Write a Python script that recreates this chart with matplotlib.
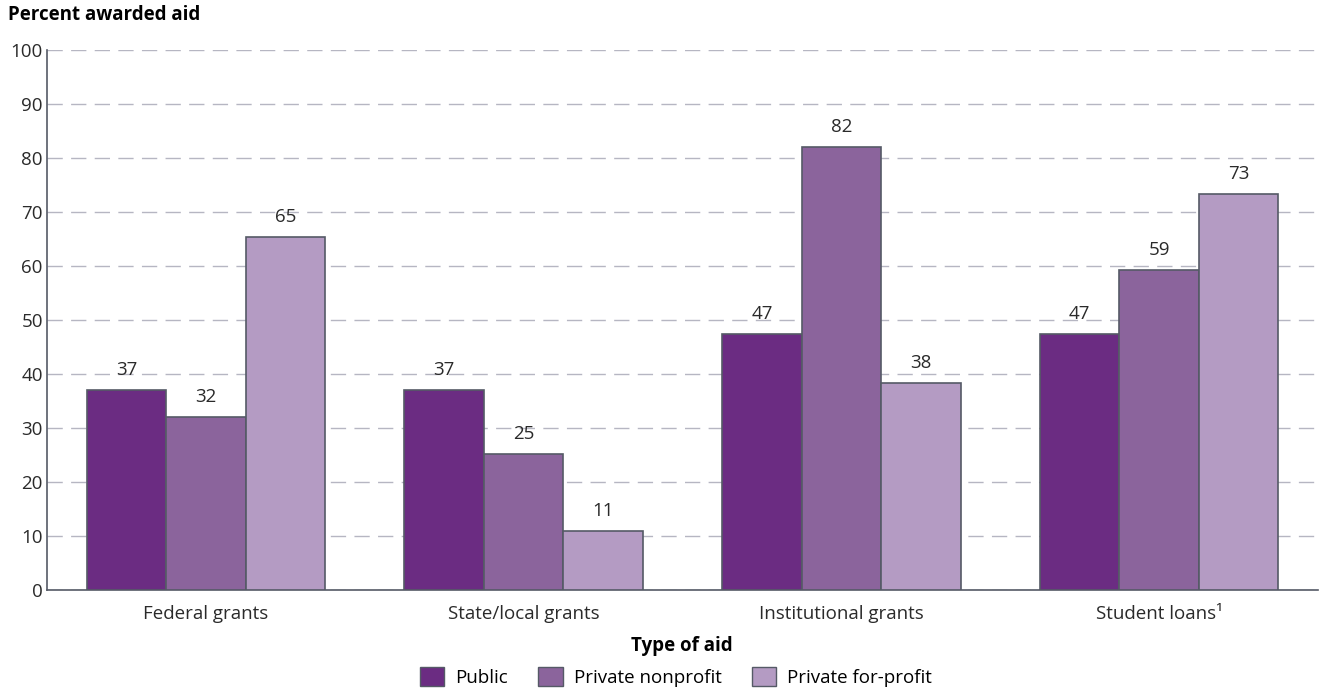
import numpy as np
import matplotlib.pyplot as plt
from matplotlib.patches import Patch

categories = ["Federal grants", "State/local grants", "Institutional grants", "Student loans\u00b9"]
series = ["Public", "Private nonprofit", "Private for-profit"]
public = [37.0, 37.0, 47.4, 47.4]
nonprofit = [32.0, 25.2, 82.0, 59.3]
forprofit = [65.4, 10.9, 38.4, 73.3]
labels = [[37, 37, 47, 47], [32, 25, 82, 59], [65, 11, 38, 73]]
colors = ["#6b2c82", "#8b649c", "#b49bc3"]

plt.rcParams['font.family'] = ['Open Sans', 'DejaVu Sans']
fs = 13.5

fig = plt.figure(figsize=(13.2, 6.93), dpi=100)
ax = fig.add_axes([47/1320, 1 - 590/693, 1271/1320, 540/693])

x = np.arange(len(categories))
w = 0.25
for i, vals in enumerate([public, nonprofit, forprofit]):
    pos = x + (i - 1) * w
    ax.bar(pos, vals, w, color=colors[i], edgecolor="#555a66", linewidth=1.2, zorder=3)
    for p, v, lab in zip(pos, vals, labels[i]):
        ax.text(p, v + 2.0, str(lab), ha="center", va="bottom", fontsize=fs, color="#2a2a2a", zorder=4)

ax.set_xlim(-0.5, 3.5)
ax.set_ylim(0, 100)
ax.set_yticks(np.arange(0, 101, 10))
ax.set_xticks(x)
ax.set_xticklabels(categories)
ax.tick_params(axis="both", length=0, labelsize=fs, colors="#2a2a2a")
ax.tick_params(axis="x", pad=11)
ax.tick_params(axis="y", pad=3)
ax.grid(axis="y", linestyle=(0, (11, 6)), color="#b6b6c2", linewidth=1.0, zorder=0)
for s in ["top", "right"]:
    ax.spines[s].set_visible(False)
for s in ["left", "bottom"]:
    ax.spines[s].set_color("#555a66")
    ax.spines[s].set_linewidth(1.2)

fig.text(8/1320, 1 - 15/693, "Percent awarded aid", fontsize=fs, fontweight="bold", va="center", ha="left")
fig.text(682/1320, 1 - 646/693, "Type of aid", fontsize=fs, fontweight="bold", va="center", ha="center")

handles = [Patch(facecolor=c, edgecolor="#555a66", label=s) for c, s in zip(colors, series)]
fig.legend(handles=handles, loc="center", bbox_to_anchor=(676/1320, 1 - 677/693), ncol=3,
           frameon=False, fontsize=fs, handlelength=1.3, handleheight=1.2, columnspacing=1.6,
           handletextpad=0.6)

fig.savefig("out.png", dpi=100)
